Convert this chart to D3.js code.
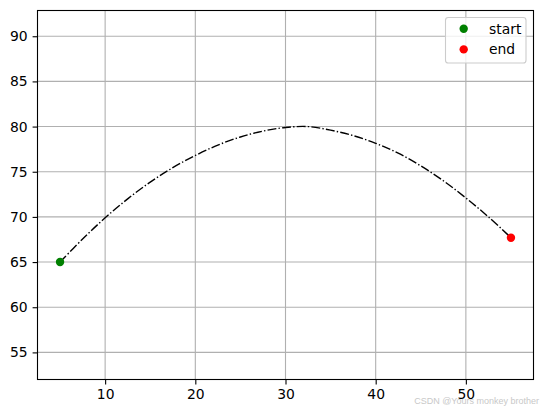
<!DOCTYPE html>
<html>
<head>
<meta charset="utf-8">
<script src="https://cdn.jsdelivr.net/npm/d3@7"></script>
<style>
  body { margin: 0; background: #fff; }
  svg { display: block; font-family: "DejaVu Sans", sans-serif; }
</style>
</head>
<body>
<div id="chart"></div>
<script>
// trajectory
var pathX = [5, 7.5, 10, 12.5, 15, 17.5, 20, 22.5, 25, 27.5, 30, 32.5, 35, 37.5, 40, 42.5, 45, 47.5, 50, 52.5, 55]
var pathY = [65, 67.55, 69.9, 72.0, 73.85, 75.45, 76.8, 77.95, 78.85, 79.5, 79.9, 80.0, 79.6, 79.0, 78.15, 77.05, 75.65, 74.0, 72.1, 70.0, 67.7]
var startPt = [5, 65]
var endPt = [55, 67.7]
var xTicks = [10, 20, 30, 40, 50]
var yTicks = [55, 60, 65, 70, 75, 80, 85, 90]
var legendLabels = ["start", "end"]
var legendColors = ["green", "red"]

var width = 543, height = 413
var margin = {left: 37.5, top: 10.5, right: 9.5, bottom: 33.5}
var w = width - margin.left - margin.right
var h = height - margin.top - margin.bottom

var svg = d3.select("#chart")
  .append("svg")
    .attr("width", width)
    .attr("height", height)

var g = svg.append("g")
  .attr("transform", "translate(" + margin.left + "," + margin.top + ")")

var x = d3.scaleLinear()
  .domain([2.5, 57.5])
  .range([0, w])

var y = d3.scaleLinear()
  .domain([52.0, 92.85])
  .range([h, 0])

// grid
g.selectAll(".gx")
  .data(xTicks)
  .enter()
  .append("line")
    .attr("x1", function(d){ return x(d) })
    .attr("x2", function(d){ return x(d) })
    .attr("y1", 0)
    .attr("y2", h)
    .attr("stroke", "#b0b0b0")
    .attr("stroke-width", 1.1)

g.selectAll(".gy")
  .data(yTicks)
  .enter()
  .append("line")
    .attr("x1", 0)
    .attr("x2", w)
    .attr("y1", function(d){ return y(d) })
    .attr("y2", function(d){ return y(d) })
    .attr("stroke", "#b0b0b0")
    .attr("stroke-width", 1.1)

// axes
var xAxis = g.append("g")
  .attr("transform", "translate(0," + h + ")")
  .call(d3.axisBottom(x).tickValues(xTicks).tickSize(4.9).tickPadding(4.9).tickFormat(d3.format("d")))
var yAxis = g.append("g")
  .call(d3.axisLeft(y).tickValues(yTicks).tickSize(4.9).tickPadding(4.9).tickFormat(d3.format("d")))

;[xAxis, yAxis].forEach(function(a){
  a.select(".domain").remove()
  a.selectAll("line").attr("stroke", "black").attr("stroke-width", 1.1)
  a.selectAll("text")
    .attr("fill", "black")
    .style("font-size", "13.9px")
    .style("font-family", "DejaVu Sans, sans-serif")
})

// frame
g.append("rect")
  .attr("x", 0)
  .attr("y", 0)
  .attr("width", w)
  .attr("height", h)
  .attr("fill", "none")
  .attr("stroke", "black")
  .attr("stroke-width", 1.1)

// dash-dot trajectory
var line = d3.line()
  .x(function(d){ return x(d[0]) })
  .y(function(d){ return y(d[1]) })
  .curve(d3.curveCatmullRom)

g.append("path")
  .datum(pathX.map(function(d, i){ return [d, pathY[i]] }))
  .attr("d", line)
  .attr("fill", "none")
  .attr("stroke", "black")
  .attr("stroke-width", 1.39)
  .style("stroke-dasharray", "8.9,2.2,1.4,2.2")

// start / end markers
g.selectAll(".pt")
  .data([startPt, endPt])
  .enter()
  .append("circle")
    .attr("cx", function(d){ return x(d[0]) })
    .attr("cy", function(d){ return y(d[1]) })
    .attr("r", 4.2)
    .attr("fill", function(d, i){ return legendColors[i] })

// legend
var lg = svg.append("g")
lg.append("rect")
  .attr("x", 445.5)
  .attr("y", 17.5)
  .attr("width", 80.5)
  .attr("height", 45.5)
  .attr("rx", 2.8)
  .attr("fill", "white")
  .attr("fill-opacity", 0.8)
  .attr("stroke", "#cccccc")
  .attr("stroke-width", 1.1)

lg.selectAll("circle")
  .data(legendLabels)
  .enter()
  .append("circle")
    .attr("cx", 463.7)
    .attr("cy", function(d, i){ return 28.7 + i * 20.7 })
    .attr("r", 4.2)
    .attr("fill", function(d, i){ return legendColors[i] })

lg.selectAll("text")
  .data(legendLabels)
  .enter()
  .append("text")
    .attr("x", 489)
    .attr("y", function(d, i){ return 28.7 + i * 20.7 })
    .attr("dy", "0.35em")
    .text(function(d){ return d })
    .style("font-size", "13.9px")
    .attr("fill", "black")

// watermark (sits over the "50" label, as in the source image)
svg.append("text")
  .attr("x", 539)
  .attr("y", 404)
  .attr("text-anchor", "end")
  .text("CSDN @Yours monkey brother")
  .style("font-family", "Liberation Sans, Arial, sans-serif")
  .style("font-size", "9px")
  .attr("fill", "#c8c8c8")
</script>
</body>
</html>
